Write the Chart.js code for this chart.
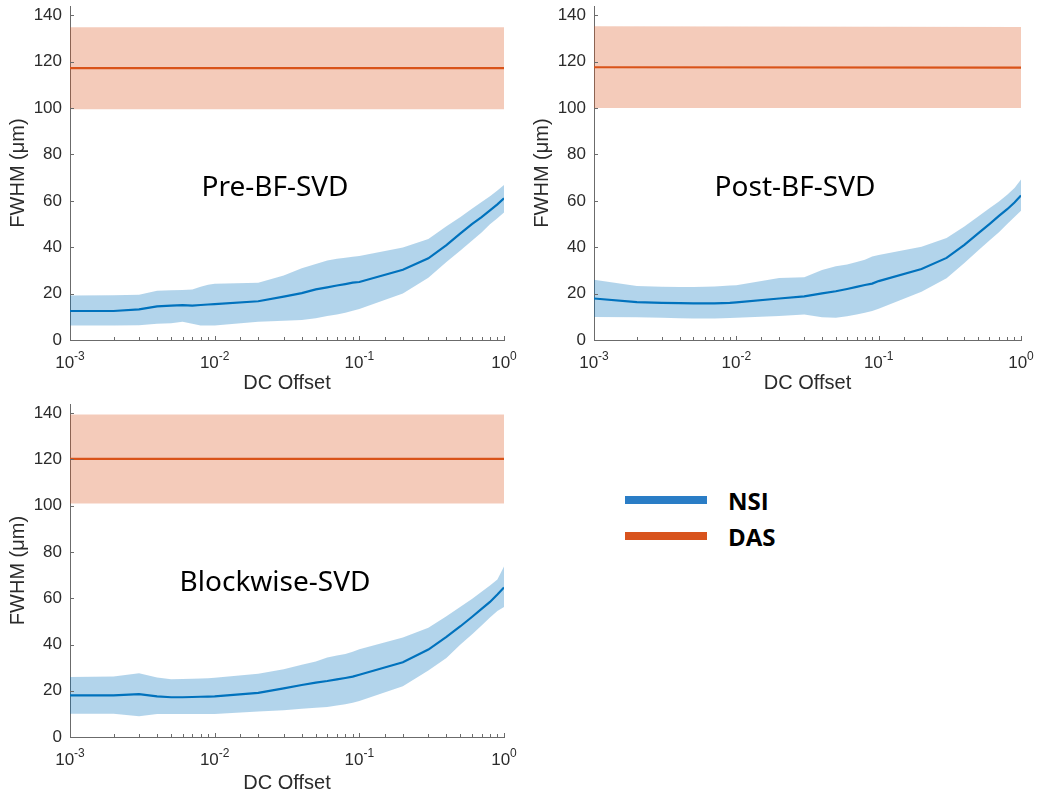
<!DOCTYPE html>
<html>
<head>
<meta charset="utf-8">
<script src="https://cdn.jsdelivr.net/npm/chart.js@4/dist/chart.umd.min.js"></script>
<style>
  body { margin: 0; background: #fff; }
  #page { position: relative; width: 1050px; height: 795px; overflow: hidden; }
  canvas { position: absolute; }
  #legend { position: absolute; left: 625px; top: 482px; font-family: "Open Sans", "Noto Sans", sans-serif; font-weight: bold; font-size: 24px; color: #000; }
  .row { display: flex; align-items: center; height: 36px; }
  .swatch { width: 82px; height: 8px; margin-right: 21px; }
</style>
</head>
<body>
<div id="page">
  <canvas id="pre" width="520" height="400" style="left:0;top:0"></canvas>
  <canvas id="post" width="530" height="400" style="left:520px;top:0"></canvas>
  <canvas id="block" width="520" height="395" style="left:0;top:400px"></canvas>
  <div id="legend">
    <div class="row"><div class="swatch" style="background:#2A7DC6"></div>NSI</div>
    <div class="row"><div class="swatch" style="background:#D8531D"></div>DAS</div>
  </div>
</div>
<script>
// x positions (DC offset) shared by all panels
const offsets = [0.001, 0.002, 0.003, 0.004, 0.005, 0.006, 0.007, 0.008, 0.009,
                 0.01, 0.02, 0.03, 0.04, 0.05, 0.06, 0.07, 0.08, 0.09,
                 0.1, 0.2, 0.3, 0.4, 0.5, 0.6, 0.7, 0.8, 0.9, 1];

// Pre-BF-SVD
const preMean  = [12.5,12.5,13.2,14.5,14.8,15.0,14.8,15.1,15.3,15.5,16.7,18.7,20.2,21.8,22.7,23.5,24.1,24.7,25.0,30.3,35.2,40.9,46.0,50.0,53.0,55.9,58.5,61.1];
const preUpper = [19.2,19.3,19.5,21.2,21.4,21.6,21.8,23.0,23.8,24.2,24.7,27.8,30.9,32.8,34.3,35.0,35.5,35.9,36.2,39.9,43.5,49.0,53.0,56.6,59.5,62.0,64.5,66.8];
const preLower = [6.2,6.2,6.4,7.0,7.2,7.9,7.0,6.2,6.2,6.3,7.9,8.3,8.6,9.4,10.3,11.0,11.8,12.6,13.4,20.1,26.8,33.6,38.6,42.8,46.4,49.9,52.5,55.0];

// Post-BF-SVD
const postMean  = [17.9,16.3,16.0,15.9,15.8,15.8,15.8,15.9,16.0,16.2,17.9,18.8,20.1,21.0,22.0,22.9,23.7,24.3,25.4,30.6,35.4,41.0,46.0,50.0,53.5,56.4,59.3,62.3];
const postUpper = [26.0,23.3,23.0,22.9,22.9,23.0,23.1,23.3,23.5,23.6,26.7,27.1,30.2,31.8,32.6,33.6,34.6,36.0,36.6,40.2,44.0,48.9,53.2,56.8,59.7,62.6,65.5,69.2];
const postLower = [9.9,9.8,9.6,9.4,9.3,9.3,9.3,9.4,9.5,9.6,10.4,11.0,9.8,9.6,10.2,11.0,11.8,12.5,13.5,20.8,26.6,33.2,38.6,42.9,46.5,50.0,53.0,55.7];

// Blockwise-SVD
const blockMean  = [18.0,18.0,18.5,17.6,17.2,17.2,17.3,17.4,17.5,17.6,19.1,21.0,22.5,23.5,24.2,24.9,25.5,26.1,26.9,32.3,37.8,43.3,47.9,51.9,55.4,58.4,61.6,64.7];
const blockUpper = [26.0,26.2,27.6,25.7,25.0,25.1,25.2,25.3,25.4,25.6,27.3,29.3,31.2,32.6,34.4,35.2,35.9,36.9,37.9,43.0,47.2,52.2,56.3,59.7,62.8,65.5,68.1,73.7];
const blockLower = [10.1,10.1,9.0,9.9,10.0,10.0,10.0,10.0,10.0,10.0,11.0,11.6,12.2,12.6,13.0,13.6,14.2,14.8,15.6,22.0,28.8,34.2,40.0,44.3,48.2,51.7,54.5,56.2];

// DAS: flat mean and band, over the whole x range
const dasOffsets = [0.001, 1];
const dasMean  = { pre: [117.2, 117.2], post: [117.6, 117.4], block: [120.3, 120.3] };
const dasUpper = { pre: [134.8, 134.8], post: [135.3, 135.0], block: [139.5, 139.5] };
const dasLower = { pre: [99.5, 99.5],   post: [100.0, 100.0], block: [101.0, 101.0] };

// decade ticks: label is 10 raised to the exponent
const xTickValues = [0.001, 0.01, 0.1, 1];
const xTickExponents = ['-3', '-2', '-1', '0'];
const yTickValues = [0, 20, 40, 60, 80, 100, 120, 140];

const NSI_COLOR = '#0072BD';
const NSI_FILL = 'rgba(0,114,189,0.3)';
const DAS_COLOR = '#D95319';
const DAS_FILL = 'rgba(217,83,25,0.3)';
const AXIS_COLOR = '#6b6b6b';
const TEXT_COLOR = '#2b2b2b';
const FAMILY = '"Liberation Sans", Arial, sans-serif';
const TICK_FONT = { family: FAMILY, size: 17 };
const TITLE_FONT = { family: FAMILY, size: 20 };

const pts = (xs, ys) => xs.map((x, i) => ({ x: x, y: ys[i] }));

// inward tick marks and 10^n labels like the original figure
const innerTicks = {
  id: 'innerTicks',
  afterDraw(chart) {
    const ctx = chart.ctx;
    const xs = chart.scales.x, ys = chart.scales.y;
    const bottom = chart.chartArea.bottom, left = chart.chartArea.left;
    ctx.save();
    ctx.strokeStyle = AXIS_COLOR;
    ctx.lineWidth = 1;
    ctx.beginPath();
    xs.ticks.forEach(t => {
      const px = Math.round(xs.getPixelForValue(t.value)) + 0.5;
      const major = xTickValues.some(v => Math.abs(v - t.value) < 1e-12);
      ctx.moveTo(px, bottom);
      ctx.lineTo(px, bottom - (major ? 4 : 3));
    });
    ys.ticks.forEach(t => {
      const py = Math.round(ys.getPixelForValue(t.value)) + 0.5;
      ctx.moveTo(left, py);
      ctx.lineTo(left + 4, py);
    });
    ctx.stroke();

    ctx.fillStyle = TEXT_COLOR;
    ctx.textBaseline = 'alphabetic';
    ctx.textAlign = 'left';
    xTickValues.forEach((v, i) => {
      const px = xs.getPixelForValue(v);
      ctx.font = '17px ' + FAMILY;
      const wBase = ctx.measureText('10').width;
      ctx.font = '12px ' + FAMILY;
      const wExp = ctx.measureText(xTickExponents[i]).width;
      const x0 = px - (wBase + wExp) / 2;
      ctx.font = '17px ' + FAMILY;
      ctx.fillText('10', x0, bottom + 28);
      ctx.font = '12px ' + FAMILY;
      ctx.fillText(xTickExponents[i], x0 + wBase, bottom + 20);
    });
    ctx.restore();
  }
};

// panel caption drawn inside the plot
const caption = {
  id: 'caption',
  afterDraw(chart, args, opts) {
    const ctx = chart.ctx;
    ctx.save();
    ctx.font = '28px "Noto Sans", "Open Sans", sans-serif';
    ctx.fillStyle = '#000';
    ctx.textAlign = 'center';
    ctx.textBaseline = 'middle';
    ctx.fillText(opts.text, opts.x, opts.y);
    ctx.restore();
  }
};

function makePanel(id, name, mean, upper, lower, lay) {
  new Chart(document.getElementById(id), {
    type: 'line',
    data: {
      datasets: [
        { label: 'NSI', data: pts(offsets, mean), borderColor: NSI_COLOR, borderWidth: 2.2, pointRadius: 0, fill: false },
        { label: 'DAS', data: pts(dasOffsets, dasMean[name]), borderColor: DAS_COLOR, borderWidth: 2.2, pointRadius: 0, fill: false },
        { label: 'NSI upper', data: pts(offsets, upper), borderWidth: 0, pointRadius: 0, backgroundColor: NSI_FILL, fill: '+1' },
        { label: 'NSI lower', data: pts(offsets, lower), borderWidth: 0, pointRadius: 0, fill: false },
        { label: 'DAS upper', data: pts(dasOffsets, dasUpper[name]), borderWidth: 0, pointRadius: 0, backgroundColor: DAS_FILL, fill: '+1' },
        { label: 'DAS lower', data: pts(dasOffsets, dasLower[name]), borderWidth: 0, pointRadius: 0, fill: false }
      ]
    },
    options: {
      responsive: false,
      animation: false,
      events: [],
      layout: { padding: { top: lay.top, right: lay.right, left: 0, bottom: 0 } },
      plugins: {
        legend: { display: false },
        tooltip: { enabled: false },
        caption: { text: lay.caption, x: lay.cx, y: lay.cy }
      },
      scales: {
        x: {
          type: 'logarithmic',
          min: 0.001,
          max: 1,
          grid: { display: false, drawTicks: false },
          border: { display: true, color: AXIS_COLOR, width: 1 },
          ticks: { display: false, autoSkip: false },
          title: { display: true, text: 'DC Offset', color: TEXT_COLOR, font: TITLE_FONT, padding: { top: 0, bottom: lay.xTitlePad } },
          afterFit: s => { s.height = lay.xHeight; s.paddingLeft = 0; s.paddingRight = 0; }
        },
        y: {
          min: 0,
          max: 144,
          grid: { display: false, drawTicks: false },
          border: { display: true, color: AXIS_COLOR, width: 1 },
          afterBuildTicks: s => { s.ticks = yTickValues.map(v => ({ value: v })); },
          ticks: { padding: 8, color: TEXT_COLOR, font: TICK_FONT },
          title: { display: true, text: 'FWHM (\u03BCm)', color: TEXT_COLOR, font: TITLE_FONT, padding: { top: lay.yTitlePad, bottom: 0 } },
          afterFit: s => { s.width = lay.yWidth; s.paddingTop = 0; s.paddingBottom = 0; }
        }
      }
    },
    plugins: [innerTicks, caption]
  });
}

makePanel('pre', 'pre', preMean, preUpper, preLower,
  { top: 6, right: 16, yWidth: 70, xHeight: 60, xTitlePad: 5, yTitlePad: 6, caption: 'Pre-BF-SVD', cx: 275, cy: 188 });
makePanel('post', 'post', postMean, postUpper, postLower,
  { top: 6, right: 29, yWidth: 74, xHeight: 60, xTitlePad: 5, yTitlePad: 10, caption: 'Post-BF-SVD', cx: 275, cy: 188 });
makePanel('block', 'block', blockMean, blockUpper, blockLower,
  { top: 4, right: 16, yWidth: 70, xHeight: 58, xTitlePad: 0, yTitlePad: 6, caption: 'Blockwise-SVD', cx: 275, cy: 183 });
</script>
</body>
</html>
